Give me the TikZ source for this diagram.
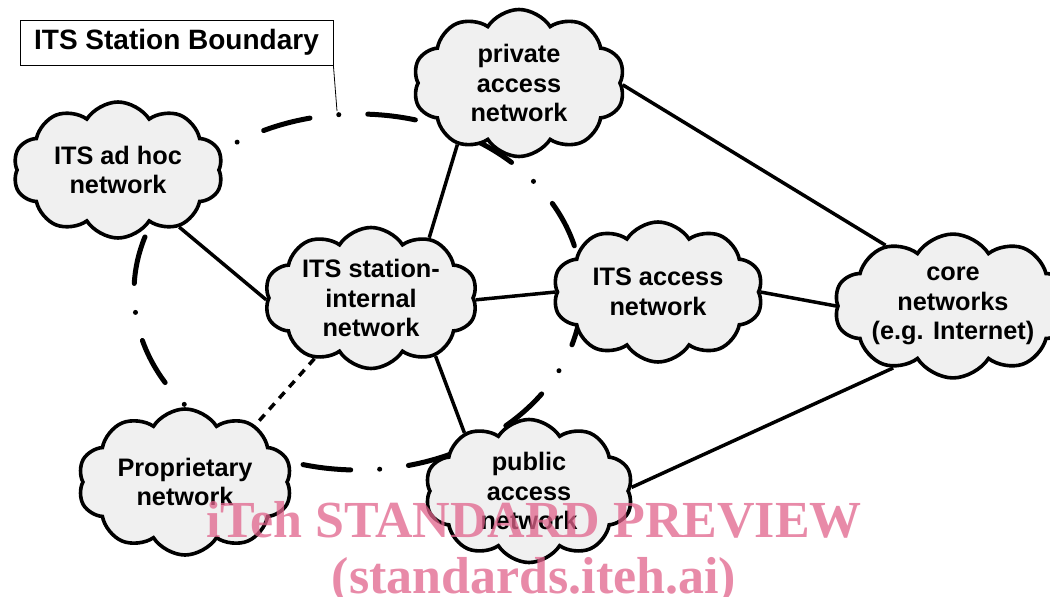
\documentclass[tikz,border=0pt]{standalone}
\usepackage{fontspec}
\setmainfont{Liberation Sans}
\newfontfamily\wmfont{Liberation Serif}
\usetikzlibrary{shapes.symbols}
\definecolor{cloudgray}{RGB}{240,240,240}
\definecolor{wmpink}{RGB}{225,100,140}
\begin{document}
\begin{tikzpicture}[x=1pt,y=-1pt,
  netcloud/.style={cloud, cloud puffs=10, cloud puff arc=115, cloud ignores aspect,
    draw=black, line width=3.6pt, fill=cloudgray, inner sep=0pt, align=center,
    font=\fontsize{25.3}{29.5}\selectfont\bfseries},
  link/.style={line width=3.5pt},
  dottedlink/.style={line width=3.5pt, dash pattern=on 8pt off 7pt},
  boundary/.style={line width=5pt, line cap=round,
    dash pattern=on 48pt off 29pt on 0.01pt off 29pt, dash phase=59pt},
  labelbox/.style={draw=black, line width=0.8pt, fill=white, inner xsep=11pt, inner ysep=8pt,
    font=\fontsize{28}{32}\selectfont\bfseries},
  watermark/.style={text=wmpink, text opacity=0.75, anchor=base,
    font=\fontsize{52}{56}\selectfont\wmfont\bfseries}
]
\useasboundingbox (0,0) rectangle (1050,597);
\fill[white] (0,0) rectangle (1050,597);

% ITS station boundary
\draw[boundary] (358,292) ellipse [x radius=224pt, y radius=178pt];

% label box with leader
\node[labelbox, minimum width=313pt, minimum height=45pt] (lbl) at (176.5,42.5) {ITS Station Boundary};
\coordinate (lead) at (337,111);
\draw[line width=0.8pt] (lbl.south east) -- (lead);

% clouds
\node[netcloud, minimum width=212pt, minimum height=147pt] (priv) at (519,83) {private\\access\\network};
\node[netcloud, minimum width=210pt, minimum height=136pt] (adhoc) at (118,170) {ITS ad hoc\\network};
\node[netcloud, minimum width=213pt, minimum height=141pt] (internal) at (371,298) {ITS station-\\internal\\network};
\node[netcloud, minimum width=210pt, minimum height=140pt] (itsacc) at (658,292) {ITS access\\network};
\node[netcloud, minimum width=204pt, minimum height=142pt] (core) at (953,306) {core\\networks\\(e.g. Internet)};
\node[netcloud, minimum width=214pt, minimum height=146pt] (prop) at (185,482) {Proprietary\\network};
\node[netcloud, minimum width=208pt, minimum height=143pt] (public) at (529,491) {public\\access\\network};

% connectors
\draw[link] (adhoc.-43) -- (internal.-179);
\draw[link] (priv.-135) -- (internal.46);
\draw[link] (priv.-1) -- (core.138);
\draw[link] (internal.-1) -- (itsacc.180);
\draw[link] (itsacc.0) -- (core.180);
\draw[link] (internal.-42) -- (public.138);
\draw[link] (public.2) -- (core.-134);
\draw[dottedlink] (internal.-133) -- (prop.39);

% watermark
\node[watermark] (wm1) at (534,537) {iTeh STANDARD PREVIEW};
\node[watermark] (wm2) at (534,593) {(standards.iteh.ai)};
\end{tikzpicture}
\end{document}
